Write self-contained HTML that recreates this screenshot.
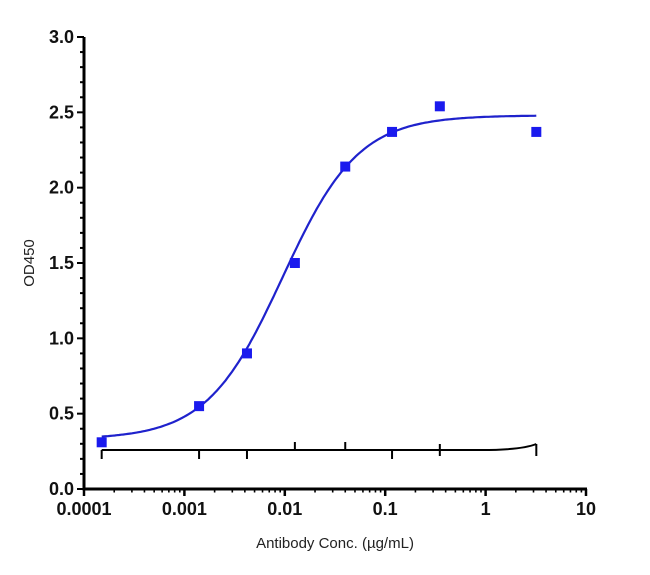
<!DOCTYPE html>
<html><head><meta charset="utf-8"><style>
body{margin:0;background:#fff;}
svg text{font-family:"Liberation Sans",Arial,sans-serif;}
</style></head><body>
<svg id="chart" width="650" height="570" viewBox="0 0 650 570" xmlns="http://www.w3.org/2000/svg">
<g id="axes"></g><g id="plot"></g>
<text x="335" y="548" font-size="15" text-anchor="middle" fill="#222">Antibody Conc. (µg/mL)</text>
<text transform="translate(34,263) rotate(-90)" font-size="15" text-anchor="middle" fill="#222">OD450</text>
</svg>
<script>
const concs=[0.00015,0.0014,0.0042,0.0126,0.04,0.117,0.35,3.2];
const od=[0.31,0.55,0.90,1.50,2.14,2.37,2.54,2.37];
const yTicks=[0,0.5,1,1.5,2,2.5,3];
const yTickLabels=["0.0","0.5","1.0","1.5","2.0","2.5","3.0"];
const xTicks=[0.0001,0.001,0.01,0.1,1,10];
const xTickLabels=["0.0001","0.001","0.01","0.1","1","10"];
const fitBottom=[0.33],fitTop=[2.48],fitEC50=[0.0095],fitHill=[1.15];
const NS="http://www.w3.org/2000/svg";
const X0=84,X1=586,Y0=489,Y1=37;
const xs=v=>X0+(Math.log10(v)+4)/5*(X1-X0);
const ys=v=>Y0-v/3*(Y0-Y1);
function mk(tag,attrs,parent){const e=document.createElementNS(NS,tag);for(const k in attrs)e.setAttribute(k,attrs[k]);parent.appendChild(e);return e;}
const ax=document.getElementById('axes'),pl=document.getElementById('plot');
let e=mk('line',{x1:X0,y1:Y1,x2:X0,y2:Y0+1.5,stroke:'#000','stroke-width':3},ax);

e=mk('line',{x1:X0-1.5,y1:Y0,x2:X1+1,y2:Y0,stroke:'#000','stroke-width':3},ax);

for(let i=0;i<=30;i++){const v=i/10,maj=i%5===0;mk('line',{x1:X0,x2:X0-(maj?7:4),y1:ys(v),y2:ys(v),stroke:'#000','stroke-width':2},ax);}
yTicks.forEach((v,i)=>{const t=mk('text',{x:X0-10,y:ys(v)+6,'font-size':18,'font-weight':'bold','text-anchor':'end',fill:'#111'},ax);t.textContent=yTickLabels[i];
});
for(let d=-4;d<1;d++)for(let m=2;m<=9;m++){const x=xs(m*Math.pow(10,d));mk('line',{x1:x,x2:x,y1:Y0,y2:Y0+3.5,stroke:'#000','stroke-width':1.6},ax);}
xTicks.forEach((v,i)=>{const x=xs(v);mk('line',{x1:x,x2:x,y1:Y0,y2:Y0+7,stroke:'#000','stroke-width':2.5},ax);
const t=mk('text',{x:x,y:Y0+26,'font-size':18,'font-weight':'bold','text-anchor':'middle',fill:'#111'},ax);t.textContent=xTickLabels[i];
});
const by=450;
const xa=xs(concs[0]),xb=xs(concs[concs.length-1]);
e=mk('path',{d:`M${xa},${by} L${xb-55},${by} Q${xb-15},${by} ${xb},${by-6}`,stroke:'#000','stroke-width':2,fill:'none'},pl);

const dirs=[1,1,1,-1,-1,1,0,0];
concs.forEach((c,i)=>{const x=xs(c);const d=dirs[i];
const y1=d===0?by-6:(d<0?by-8:by),y2=d===0?by+6:(d<0?by:by+9);
mk('line',{x1:x,x2:x,y1:y1,y2:y2,stroke:'#000','stroke-width':2},pl);});
let pts=[];const la=Math.log10(concs[0]),lb=Math.log10(concs[concs.length-1]);
for(let k=0;k<=200;k++){const lx=la+(lb-la)*k/200;const c=Math.pow(10,lx);
const v=fitBottom[0]+(fitTop[0]-fitBottom[0])/(1+Math.pow(fitEC50[0]/c,fitHill[0]));
pts.push(xs(c).toFixed(1)+','+ys(v).toFixed(1));}
e=mk('polyline',{points:pts.join(' '),fill:'none',stroke:'#1f22cc','stroke-width':2.2},pl);

concs.forEach((c,i)=>{const r=mk('rect',{x:xs(c)-5,y:ys(od[i])-5,width:10,height:10,fill:'#1a1aee'},pl);
});
</script>
</body></html>
